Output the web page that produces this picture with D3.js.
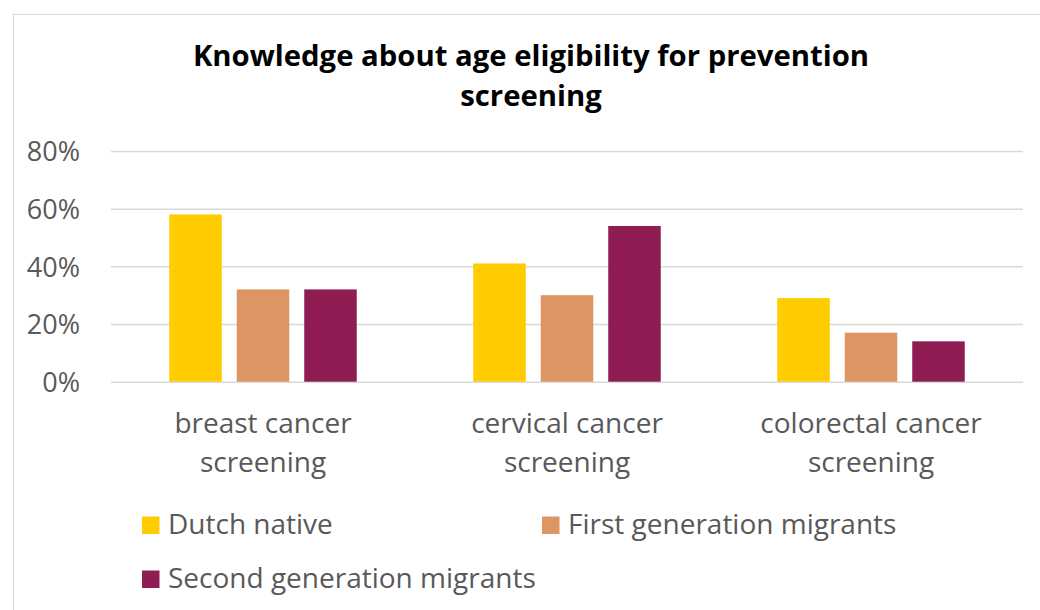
<!DOCTYPE html>
<html><head><meta charset="utf-8">
<script src="https://cdn.jsdelivr.net/npm/d3@7"></script>
<style>
html,body{margin:0;padding:0;background:#fff;}
svg text{font-family:"Open Sans",sans-serif;}
</style></head>
<body>
<svg id="chart" width="1040" height="610"></svg>
<script>
const titleLines = ["Knowledge about age eligibility for prevention", "screening"];
const categories = [["breast cancer","screening"],["cervical cancer","screening"],["colorectal cancer","screening"]];
const seriesNames = ["Dutch native","First generation migrants","Second generation migrants"];
const seriesColors = ["#ffcc00","#dd9564","#8f1d54"];
const dutchNative = [58, 41, 29];
const firstGen = [32, 30, 17];
const secondGen = [32, 54, 14];
const yTicks = [0, 20, 40, 60, 80];

const series = [dutchNative, firstGen, secondGen];
const svg = d3.select("#chart");

// chart border
svg.append("rect").attr("x",13.5).attr("y",14.5).attr("width",1100).attr("height",700)
  .attr("fill","#fff").attr("stroke","#d9d9d9").attr("stroke-width",1);

const plot = {left:111, right:1023, top:151, bottom:381.7};
const y = d3.scaleLinear().domain([0,80]).range([plot.bottom, plot.top]);
const x0 = d3.scaleBand().domain(categories.map((c,i)=>i)).range([plot.left, plot.right]).paddingInner(0).paddingOuter(0);
const x1 = d3.scaleBand().domain(d3.range(series.length)).range([0, x0.bandwidth()]).paddingInner(0.222).paddingOuter(0.863);

// gridlines via axis
const yAxis = d3.axisLeft(y).tickValues(yTicks).tickSize(-(plot.right-plot.left)).tickFormat(d=>d+"%").tickPadding(31);
const gy = svg.append("g").attr("transform",`translate(${plot.left},0)`).call(yAxis);
gy.select(".domain").remove();
gy.selectAll(".tick line").attr("stroke","#d9d9d9").attr("stroke-width",1.5);
gy.selectAll(".tick text").attr("fill","#595959").style("font-size","27px").attr("dy","0.36em");

// bars
categories.forEach((c,ci)=>{
  series.forEach((s,si)=>{
    svg.append("rect")
      .attr("x", x0(ci)+x1(si))
      .attr("y", y(s[ci]))
      .attr("width", x1.bandwidth())
      .attr("height", y(0)-y(s[ci]))
      .attr("fill", seriesColors[si]);
  });
});

// category labels
const xAxis = d3.axisBottom(x0).tickSize(0).tickFormat("");
const gx = svg.append("g").attr("transform",`translate(0,${plot.bottom})`).call(xAxis);
gx.select(".domain").remove();
gx.selectAll(".tick").each(function(d){
  const t = d3.select(this).append("text").attr("fill","#595959").attr("text-anchor","middle").style("font-size","28px");
  categories[d].forEach((ln,li)=>{
    t.append("tspan").attr("x",0).attr("y", 51.3 + li*39).text(ln);
  });
});

// title
const tt = svg.append("text").attr("text-anchor","middle").attr("fill","#000").style("font-size","29.3px").style("font-weight","700");
titleLines.forEach((ln,i)=>tt.append("tspan").attr("x",531).attr("y",66+i*40).text(ln));

// legend
const legendPos = [[142,534],[542,534],[142,588]];
seriesNames.forEach((n,i)=>{
  const g = svg.append("g").attr("transform",`translate(${legendPos[i][0]},${legendPos[i][1]})`);
  g.append("rect").attr("x",0).attr("y",-17.5).attr("width",17.5).attr("height",17.5).attr("fill",seriesColors[i]);
  g.append("text").attr("x",26).attr("y",0).attr("fill","#595959").style("font-size","28px").text(n);
});
</script>
</body></html>
